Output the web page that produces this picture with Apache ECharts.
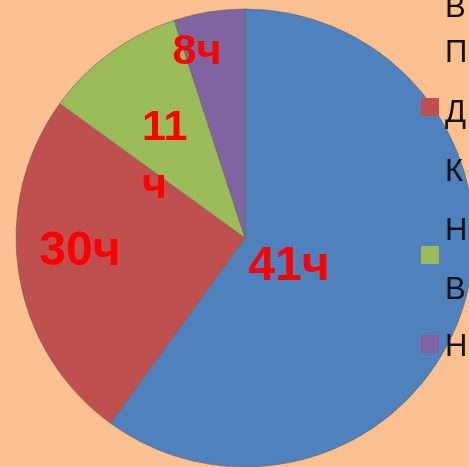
<!DOCTYPE html>
<html>
<head>
<meta charset="utf-8">
<script src="https://cdn.jsdelivr.net/npm/echarts@6/dist/echarts.min.js"></script>
<style>
html,body{margin:0;padding:0;background:#FAC090;}
#c{width:469px;height:467px;}
</style>
</head>
<body>
<div id="c"></div>
<script>
// Slice shares and their printed labels
const categories = ['В', 'Д', 'Н', 'Н2'];
const values = [60, 25, 10, 5];
const labels = ['41ч', '30ч', '11\nч', '8ч'];
const colors = ['#4F81BD', '#C0504D', '#9BBB59', '#8064A2'];
// Legend text lines visible at the right edge (rest is cut off)
const legendLines = ['В', 'П', 'Д', 'К', 'Н', 'В', 'Н'];

const labelLayoutPos = [
  {x: 289, y: 267, align: 'center', size: 48},
  {x: 80, y: 252, align: 'center', size: 48},
  {x: 142, y: 157, align: 'left', size: 43},
  {x: 197, y: 52, align: 'center', size: 43}
];
const legendLineY = [11, 56, 116, 175, 234, 293, 350];
const legendSquares = [{i: 1, y: 98}, {i: 2, y: 246}, {i: 3, y: 335}];

const chart = echarts.init(document.getElementById('c'), null, {renderer: 'canvas'});

const graphics = [];
legendLines.forEach((t, k) => {
  graphics.push({
    type: 'text', left: 445, top: legendLineY[k] - 18, z: 10,
    style: {text: t, fill: '#111111', font: '31px "Liberation Sans", Arial, sans-serif'}
  });
});
legendSquares.forEach(s => {
  graphics.push({
    type: 'rect', left: 421, top: s.y, z: 10,
    shape: {width: 18, height: 18},
    style: {fill: colors[s.i]}
  });
});

chart.setOption({
  backgroundColor: '#FAC090',
  animation: false,
  graphic: graphics,
  series: [{
    type: 'pie',
    center: [245, 238],
    radius: 229,
    startAngle: 90,
    clockwise: true,
    silent: true,
    data: categories.map((n, i) => ({
      name: n,
      value: values[i],
      itemStyle: {color: colors[i]},
      label: {fontSize: labelLayoutPos[i].size, lineHeight: 58}
    })),
    itemStyle: {borderColor: 'rgba(110,100,100,0.6)', borderWidth: 1},
    label: {
      show: true,
      position: 'inside',
      formatter: p => labels[p.dataIndex],
      color: '#FF0000',
      fontWeight: 'bold',
      fontFamily: '"Liberation Sans", Arial, sans-serif'
    },
    labelLine: {show: false},
    labelLayout: function (params) {
      const p = labelLayoutPos[params.dataIndex];
      return {x: p.x, y: p.y, align: p.align, verticalAlign: 'middle'};
    }
  }]
});
</script>
</body>
</html>
